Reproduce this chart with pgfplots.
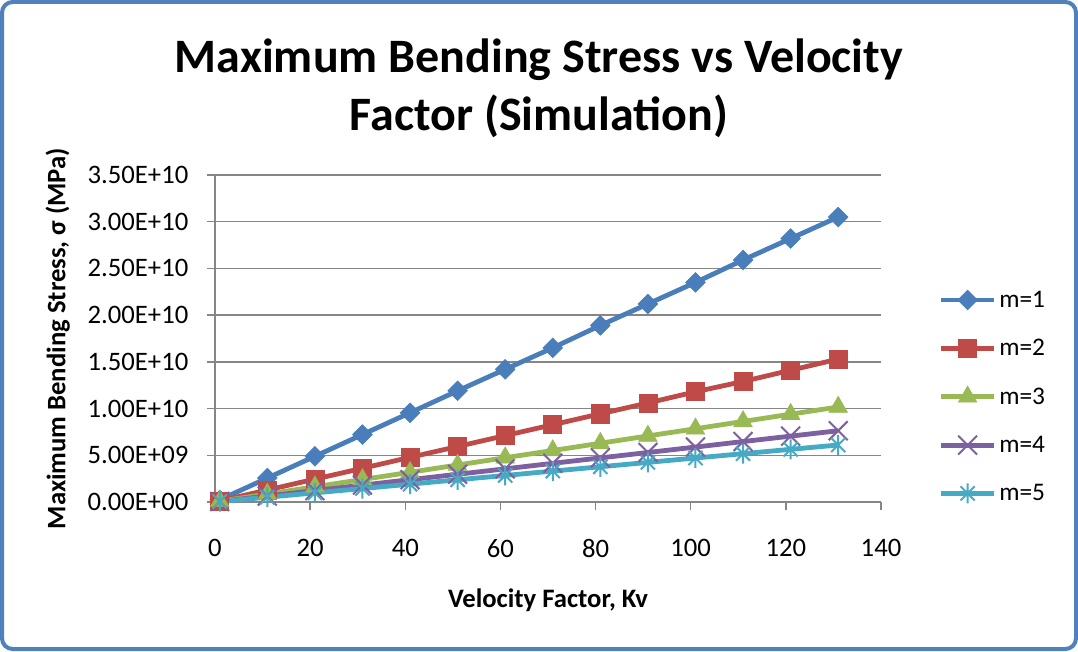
\documentclass[border=0pt]{standalone}
\usepackage{pgfplots}
\pgfplotsset{compat=1.18}
\usepackage{fontspec}
\setmainfont{Carlito}
\definecolor{sA}{RGB}{74,126,187}
\definecolor{sB}{RGB}{190,75,72}
\definecolor{sC}{RGB}{152,185,84}
\definecolor{sD}{RGB}{125,96,160}
\definecolor{sE}{RGB}{70,170,197}
\definecolor{bord}{RGB}{79,129,189}
\definecolor{gridc}{RGB}{134,134,134}
\pgfdeclareplotmark{xlstar}{%
  \pgfpathmoveto{\pgfqpoint{0pt}{-\pgfplotmarksize}}%
  \pgfpathlineto{\pgfqpoint{0pt}{\pgfplotmarksize}}%
  \pgfpathmoveto{\pgfqpoint{-.7071\pgfplotmarksize}{-.7071\pgfplotmarksize}}%
  \pgfpathlineto{\pgfqpoint{.7071\pgfplotmarksize}{.7071\pgfplotmarksize}}%
  \pgfpathmoveto{\pgfqpoint{-.7071\pgfplotmarksize}{.7071\pgfplotmarksize}}%
  \pgfpathlineto{\pgfqpoint{.7071\pgfplotmarksize}{-.7071\pgfplotmarksize}}%
  \pgfusepathqstroke}
\begin{document}
\begin{tikzpicture}
\useasboundingbox (0,0) rectangle (808.5pt,488.25pt);
\fill[white] (0,0) rectangle (808.5pt,488.25pt);
\draw[bord, line width=3pt, rounded corners=8pt] (1.5pt,1.5pt) rectangle (807pt,486.75pt);
\node[align=center, font=\fontsize{36}{43.5}\selectfont\bfseries] at (404.25pt,422pt) {Maximum Bending Stress vs Velocity\\Factor (Simulation)};
\begin{axis}[
  at={(161.25pt,111.75pt)}, anchor=south west,
  scale only axis, width=499.5pt, height=245.25pt,
  xmin=0, xmax=140, ymin=0, ymax=3.5e10,
  xtick={0,20,40,60,80,100,120,140},
  ytick={0,5e9,1e10,1.5e10,2e10,2.5e10,3e10,3.5e10},
  yticklabels={0.00E+00,5.00E+09,1.00E+10,1.50E+10,2.00E+10,2.50E+10,3.00E+10,3.50E+10},
  scaled y ticks=false,
  /pgf/number format/assume math mode=true,
  axis lines=left, axis line style={-, gridc, line width=1.1pt},
  tick align=outside, major tick length=6pt,
  tick style={gridc, line width=1.1pt},
  ymajorgrids, grid style={gridc, line width=1.1pt},
  ticklabel style={font=\fontsize{20}{24}\selectfont},
  yticklabel style={xshift=-10.5pt},
  xticklabel style={yshift=-18.5pt},
  clip=false,
  xlabel={Velocity Factor, Kv},
  ylabel={Maximum Bending Stress, σ (MPa)},
  every axis x label/.style={at={(axis description cs:0.5,-0.30)}, anchor=center, font=\fontsize{20}{24}\selectfont\bfseries},
  every axis y label/.style={at={(axis description cs:-0.236,0.5)}, rotate=90, anchor=center, font=\fontsize{20}{24}\selectfont\bfseries},
  legend style={at={(1.08,0.322)}, anchor=west, draw=none, fill=none,
    font=\fontsize{19}{22}\selectfont, row sep=18.5pt},
  legend cell align=left,
  legend image code/.code={\draw[#1,mark repeat=2,mark phase=2] plot coordinates {(0pt,0pt) (20pt,0pt) (40pt,0pt)};},
  every axis plot/.append style={line width=3.6pt},
]
\addplot[sA, mark=square*, mark size=5.2pt, mark options={rotate=45, line width=0.5pt}] coordinates {
(1,2.33e8) (11,2.56e9) (21,4.89e9) (31,7.22e9) (41,9.55e9) (51,1.19e10) (61,1.42e10)
(71,1.65e10) (81,1.89e10) (91,2.12e10) (101,2.35e10) (111,2.59e10) (121,2.82e10) (131,3.05e10)};
\addlegendentry{m=1}
\addplot[sB, mark=square*, mark size=6.8pt, mark options={line width=0.5pt}] coordinates {
(1,1.17e8) (11,1.28e9) (21,2.45e9) (31,3.61e9) (41,4.78e9) (51,5.94e9) (61,7.11e9)
(71,8.27e9) (81,9.44e9) (91,1.06e10) (101,1.18e10) (111,1.29e10) (121,1.41e10) (131,1.53e10)};
\addlegendentry{m=2}
\addplot[sC, mark=triangle*, mark size=8pt, mark options={line width=0.5pt}] coordinates {
(1,7.8e7) (11,8.5e8) (21,1.63e9) (31,2.41e9) (41,3.18e9) (51,3.96e9) (61,4.74e9)
(71,5.51e9) (81,6.29e9) (91,7.07e9) (101,7.84e9) (111,8.62e9) (121,9.40e9) (131,1.017e10)};
\addlegendentry{m=3}
\addplot[sD, mark=x, mark size=10pt, mark options={line width=1.5pt}] coordinates {
(1,5.8e7) (11,6.4e8) (21,1.22e9) (31,1.81e9) (41,2.39e9) (51,2.97e9) (61,3.55e9)
(71,4.14e9) (81,4.72e9) (91,5.30e9) (101,5.88e9) (111,6.47e9) (121,7.05e9) (131,7.63e9)};
\addlegendentry{m=4}
\addplot[sE, mark=xlstar, mark size=7.5pt, mark options={line width=1.5pt}] coordinates {
(1,4.7e7) (11,5.1e8) (21,9.8e8) (31,1.44e9) (41,1.91e9) (51,2.38e9) (61,2.84e9)
(71,3.31e9) (81,3.77e9) (91,4.24e9) (101,4.71e9) (111,5.17e9) (121,5.64e9) (131,6.10e9)};
\addlegendentry{m=5}
\end{axis}
\end{tikzpicture}
\end{document}
